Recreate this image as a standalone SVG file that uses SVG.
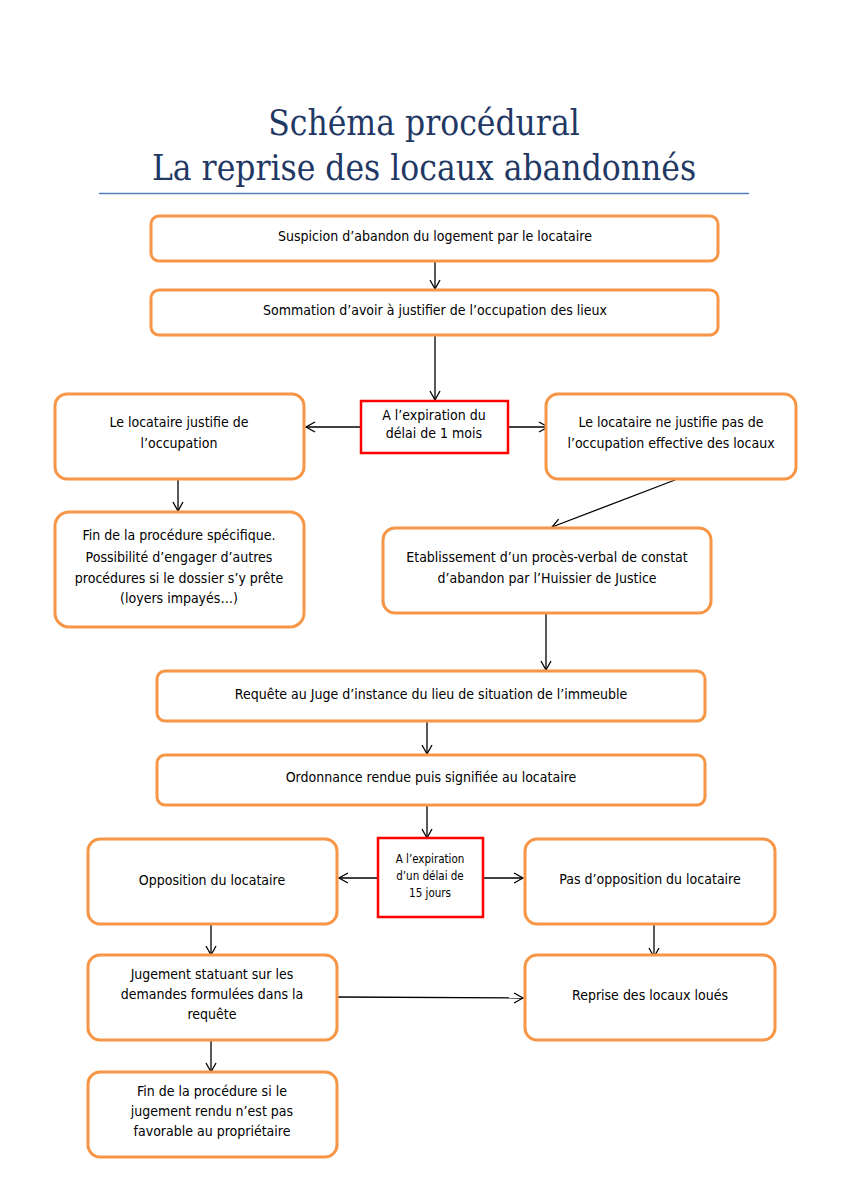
<svg xmlns="http://www.w3.org/2000/svg" width="849" height="1200" viewBox="0 0 849 1200">
<style>
.t{font-family:"Liberation Sans Narrow","DejaVu Sans Condensed",sans-serif;font-size:14px;fill:#000;text-anchor:middle}
.s{font-size:11.5px}
.box{fill:#fff;stroke:#F79646;stroke-width:3}
.red{fill:#fff;stroke:#FF0000;stroke-width:2.5}
.c{stroke:#000;stroke-width:1.3;fill:none;marker-end:url(#ah)}
.title{font-family:"DejaVu Serif Condensed","Liberation Serif",serif;font-size:35px;fill:#1F3864;text-anchor:middle}
</style>
<defs>
<marker id="ah" markerWidth="12" markerHeight="12" refX="10" refY="6" orient="auto" markerUnits="userSpaceOnUse">
<path d="M1,1 L10,6 L1,11" fill="none" stroke="#000" stroke-width="1.3"/>
</marker>
</defs>
<rect width="849" height="1200" fill="#fff"/>
<g id="title">
<text class="title" x="424" y="135">Schéma procédural</text>
<text class="title" x="424" y="180">La reprise des locaux abandonnés</text>
<line x1="99" y1="193.5" x2="749" y2="193.5" stroke="#4F81BD" stroke-width="1.3"/>
</g>
<g id="connectors">
<line class="c" x1="435" y1="262" x2="435" y2="289"/>
<line class="c" x1="435" y1="336" x2="435" y2="400"/>
<line class="c" x1="361" y1="427" x2="306" y2="427"/>
<line class="c" x1="508" y1="427" x2="548" y2="427"/>
<line class="c" x1="178" y1="480" x2="178" y2="511"/>
<line class="c" x1="675" y1="480" x2="552" y2="527"/>
<line class="c" x1="546" y1="614" x2="546" y2="670"/>
<line class="c" x1="427" y1="722" x2="427" y2="754"/>
<line class="c" x1="427" y1="806" x2="427" y2="838"/>
<line class="c" x1="378" y1="878" x2="339" y2="878"/>
<line class="c" x1="483" y1="878" x2="523" y2="878"/>
<line class="c" x1="211" y1="925" x2="211" y2="955"/>
<line class="c" x1="654" y1="925" x2="654" y2="957"/>
<line class="c" x1="337" y1="997" x2="523" y2="998"/>
<line class="c" x1="211" y1="1041" x2="211" y2="1072"/>
</g>
<g id="n1"><rect class="box" x="151" y="216" width="567" height="45" rx="8"/><text class="t" x="435" y="241">Suspicion d’abandon du logement par le locataire</text></g>
<g id="n2"><rect class="box" x="151" y="290" width="567" height="45" rx="8"/><text class="t" x="435" y="315">Sommation d’avoir à justifier de l’occupation des lieux</text></g>
<g id="n3"><rect class="red" x="361" y="401" width="147" height="52"/><text class="t" x="434" y="420">A l’expiration du</text><text class="t" x="434" y="438">délai de 1 mois</text></g>
<g id="n4"><rect class="box" x="55" y="394" width="249" height="85" rx="12"/><text class="t" x="179" y="427">Le locataire justifie de</text><text class="t" x="179" y="448">l’occupation</text></g>
<g id="n5"><rect class="box" x="546" y="394" width="250" height="85" rx="12"/><text class="t" x="671" y="427">Le locataire ne justifie pas de</text><text class="t" x="671" y="448">l’occupation effective des locaux</text></g>
<g id="n6"><rect class="box" x="55" y="512" width="249" height="115" rx="14"/><text class="t" x="179" y="540">Fin de la procédure spécifique.</text><text class="t" x="179" y="562">Possibilité d’engager d’autres</text><text class="t" x="179" y="583">procédures si le dossier s’y prête</text><text class="t" x="179" y="603">(loyers impayés…)</text></g>
<g id="n7"><rect class="box" x="383" y="528" width="328" height="85" rx="12"/><text class="t" x="547" y="562">Etablissement d’un procès-verbal de constat</text><text class="t" x="547" y="583">d’abandon par l’Huissier de Justice</text></g>
<g id="n8"><rect class="box" x="157" y="671" width="548" height="50" rx="8"/><text class="t" x="431" y="699">Requête au Juge d’instance du lieu de situation de l’immeuble</text></g>
<g id="n9"><rect class="box" x="157" y="755" width="548" height="50" rx="8"/><text class="t" x="431" y="782">Ordonnance rendue puis signifiée au locataire</text></g>
<g id="n10"><rect class="red" x="378" y="838" width="105" height="79"/><text class="t s" x="430" y="863">A l’expiration</text><text class="t s" x="430" y="880">d’un délai de</text><text class="t s" x="430" y="897">15 jours</text></g>
<g id="n11"><rect class="box" x="88" y="839" width="249" height="85" rx="12"/><text class="t" x="212" y="885">Opposition du locataire</text></g>
<g id="n12"><rect class="box" x="525" y="839" width="250" height="85" rx="12"/><text class="t" x="650" y="884">Pas d’opposition du locataire</text></g>
<g id="n13"><rect class="box" x="88" y="955" width="249" height="85" rx="12"/><text class="t" x="212" y="979">Jugement statuant sur les</text><text class="t" x="212" y="999">demandes formulées dans la</text><text class="t" x="212" y="1019">requête</text></g>
<g id="n14"><rect class="box" x="525" y="955" width="250" height="85" rx="12"/><text class="t" x="650" y="1000">Reprise des locaux loués</text></g>
<g id="n15"><rect class="box" x="88" y="1072" width="249" height="85" rx="12"/><text class="t" x="212" y="1096">Fin de la procédure si le</text><text class="t" x="212" y="1116">jugement rendu n’est pas</text><text class="t" x="212" y="1136">favorable au propriétaire</text></g>
</svg>
